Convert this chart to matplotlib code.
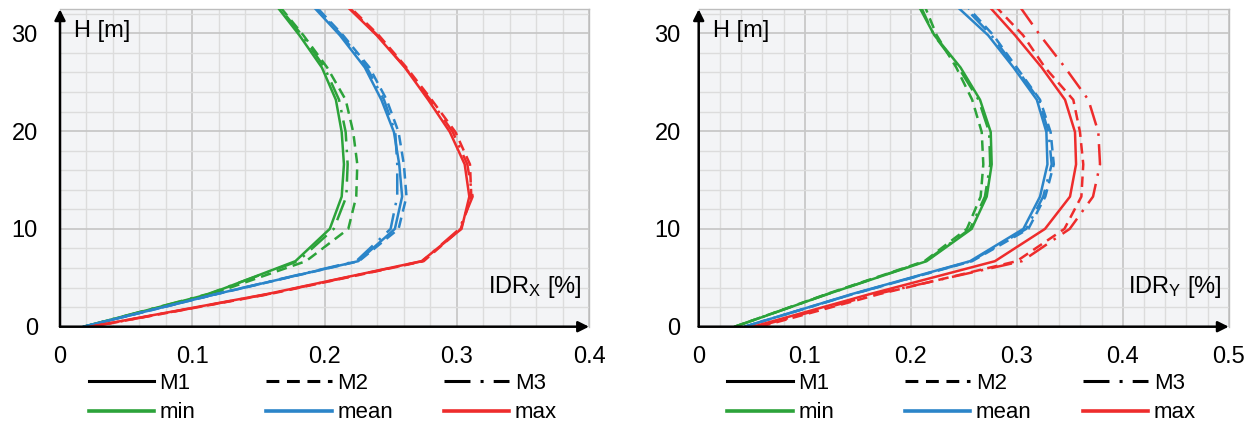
import matplotlib
matplotlib.use("Agg")
import matplotlib.pyplot as plt
from matplotlib.lines import Line2D
from matplotlib.ticker import MultipleLocator

plt.rcParams['font.family'] = ['Liberation Sans', 'DejaVu Sans']
plt.rcParams['mathtext.default'] = 'regular'

# Storey levels [m]
H_LEVELS = [0.0, 3.35, 6.7, 10.0, 13.3, 16.6, 19.9, 23.2, 26.5, 29.8, 33.1]

# Inter-storey drift ratio, X direction [%]
IDRX_MIN_M1 = [0.018, 0.113, 0.178, 0.204, 0.213, 0.2147, 0.213, 0.2086, 0.198, 0.181, 0.162]
IDRX_MIN_M2 = [0.018, 0.115, 0.186, 0.218, 0.224, 0.2248, 0.2217, 0.216, 0.202, 0.184, 0.164]
IDRX_MIN_M3 = [0.018, 0.112, 0.180, 0.207, 0.2165, 0.2175, 0.216, 0.211, 0.200, 0.183, 0.163]
IDRX_MEAN_M1 = [0.018, 0.1185, 0.2255, 0.2532, 0.2587, 0.2565, 0.2525, 0.243, 0.2305, 0.2116, 0.189]
IDRX_MEAN_M2 = [0.018, 0.119, 0.226, 0.256, 0.262, 0.260, 0.256, 0.247, 0.234, 0.214, 0.191]
IDRX_MEAN_M3 = [0.018, 0.1185, 0.224, 0.250, 0.255, 0.255, 0.2535, 0.245, 0.232, 0.213, 0.190]
IDRX_MAX_M1 = [0.023, 0.157, 0.2734, 0.3036, 0.3095, 0.306, 0.2948, 0.2784, 0.2608, 0.2394, 0.2143]
IDRX_MAX_M2 = [0.024, 0.159, 0.275, 0.303, 0.311, 0.310, 0.299, 0.281, 0.262, 0.241, 0.216]
IDRX_MAX_M3 = [0.024, 0.158, 0.274, 0.302, 0.312, 0.308, 0.297, 0.280, 0.261, 0.240, 0.215]

# Inter-storey drift ratio, Y direction [%]
IDRY_MIN_M1 = [0.0342, 0.122, 0.215, 0.2575, 0.2717, 0.2764, 0.2755, 0.2654, 0.247, 0.2223, 0.206]
IDRY_MIN_M2 = [0.034, 0.121, 0.213, 0.253, 0.266, 0.2685, 0.267, 0.258, 0.243, 0.2245, 0.212]
IDRY_MIN_M3 = [0.034, 0.122, 0.214, 0.256, 0.270, 0.275, 0.274, 0.264, 0.245, 0.222, 0.208]
IDRY_MEAN_M1 = [0.0434, 0.145, 0.256, 0.3063, 0.322, 0.329, 0.328, 0.319, 0.297, 0.273, 0.240]
IDRY_MEAN_M2 = [0.0434, 0.146, 0.258, 0.311, 0.327, 0.335, 0.332, 0.322, 0.300, 0.278, 0.250]
IDRY_MEAN_M3 = [0.0434, 0.146, 0.257, 0.309, 0.325, 0.333, 0.330, 0.321, 0.299, 0.276, 0.247]
IDRY_MAX_M1 = [0.0513, 0.162, 0.2795, 0.3267, 0.3503, 0.356, 0.355, 0.3456, 0.3236, 0.2984, 0.271]
IDRY_MAX_M2 = [0.058, 0.171, 0.300, 0.345, 0.361, 0.3628, 0.3597, 0.3534, 0.3267, 0.306, 0.277]
IDRY_MAX_M3 = [0.055, 0.168, 0.305, 0.350, 0.372, 0.3786, 0.377, 0.3676, 0.3456, 0.322, 0.3005]

MODELS = ['M1', 'M2', 'M3']
STATS = ['min', 'mean', 'max']

X_TICKS_LEFT = [0, 0.1, 0.2, 0.3, 0.4]
X_TICKLABELS_LEFT = ['0', '0.1', '0.2', '0.3', '0.4']
X_TICKS_RIGHT = [0, 0.1, 0.2, 0.3, 0.4, 0.5]
X_TICKLABELS_RIGHT = ['0', '0.1', '0.2', '0.3', '0.4', '0.5']
Y_TICKS = [0, 10, 20, 30]
Y_TICKLABELS = ['0', '10', '20', '30']

STAT_COLORS = {'min': '#2ca33a', 'mean': '#2b85c9', 'max': '#ee2c2c'}
MODEL_STYLES = {'M1': '-', 'M2': (0, (4.2, 2.5)), 'M3': (0, (8.5, 3.3, 1, 3.3))}

panels = [
    {
        'data': {
            ('min', 'M1'): IDRX_MIN_M1, ('min', 'M2'): IDRX_MIN_M2, ('min', 'M3'): IDRX_MIN_M3,
            ('mean', 'M1'): IDRX_MEAN_M1, ('mean', 'M2'): IDRX_MEAN_M2, ('mean', 'M3'): IDRX_MEAN_M3,
            ('max', 'M1'): IDRX_MAX_M1, ('max', 'M2'): IDRX_MAX_M2, ('max', 'M3'): IDRX_MAX_M3,
        },
        'xlim': 0.4, 'xticks': X_TICKS_LEFT, 'xticklabels': X_TICKLABELS_LEFT,
        'xlabel': r'IDR$_{X}$ [%]',
        'rect_px': (60, 589), 'ypad': 16,
    },
    {
        'data': {
            ('min', 'M1'): IDRY_MIN_M1, ('min', 'M2'): IDRY_MIN_M2, ('min', 'M3'): IDRY_MIN_M3,
            ('mean', 'M1'): IDRY_MEAN_M1, ('mean', 'M2'): IDRY_MEAN_M2, ('mean', 'M3'): IDRY_MEAN_M3,
            ('max', 'M1'): IDRY_MAX_M1, ('max', 'M2'): IDRY_MAX_M2, ('max', 'M3'): IDRY_MAX_M3,
        },
        'xlim': 0.5, 'xticks': X_TICKS_RIGHT, 'xticklabels': X_TICKLABELS_RIGHT,
        'xlabel': r'IDR$_{Y}$ [%]',
        'rect_px': (698.7, 1228.7), 'ypad': 13,
    },
]

W, H = 1255, 424
fig = plt.figure(figsize=(W / 100, H / 100), dpi=100)

y0_px, y1_px = 326.7, 9.3
for p in panels:
    x0_px, x1_px = p['rect_px']
    ax = fig.add_axes([x0_px / W, (H - y0_px) / H, (x1_px - x0_px) / W, (y0_px - y1_px) / H])
    ax.set_facecolor('#f3f4f6')
    ax.set_xlim(0, p['xlim'])
    ax.set_ylim(0, 32.45)

    ax.set_xticks(p['xticks'])
    ax.set_xticklabels(p['xticklabels'])
    ax.set_yticks(Y_TICKS)
    ax.set_yticklabels(Y_TICKLABELS)
    ax.xaxis.set_minor_locator(MultipleLocator(0.02))
    ax.yaxis.set_minor_locator(MultipleLocator(2))
    ax.grid(which='major', color='#c8c8c8', lw=1.3)
    ax.grid(which='minor', color='#dcdcdc', lw=1.0)
    ax.set_axisbelow(True)
    ax.tick_params(which='both', length=0, labelsize=17)
    ax.tick_params(axis='x', pad=14)
    ax.tick_params(axis='y', pad=p['ypad'])

    for s in ('left', 'bottom'):
        ax.spines[s].set_visible(False)
    for s in ('top', 'right'):
        ax.spines[s].set_color('#bdbdbd')
        ax.spines[s].set_linewidth(1.0)

    for stat in STATS:
        for model in MODELS:
            ax.plot(p['data'][(stat, model)], H_LEVELS, color=STAT_COLORS[stat],
                    ls=MODEL_STYLES[model], lw=1.8, zorder=3)

    # axis lines with arrow heads
    arrow = dict(arrowstyle='-|>', color='black', lw=1.8, mutation_scale=16,
                 shrinkA=0, shrinkB=0)
    ax.annotate('', xy=(1.0, 0), xytext=(0, 0), xycoords='axes fraction',
                textcoords='axes fraction', arrowprops=arrow, annotation_clip=False, zorder=5)
    ax.annotate('', xy=(0, 1.0), xytext=(0, 0), xycoords='axes fraction',
                textcoords='axes fraction', arrowprops=arrow, annotation_clip=False, zorder=5)

    ax.text(0.027, 0.933, 'H [m]', transform=ax.transAxes, ha='left', va='center', fontsize=17)
    ax.text(1 - 7 / (x1_px - x0_px), 0.125, p['xlabel'], transform=ax.transAxes,
            ha='right', va='center', fontsize=17)

    # legend: one two-row block per column
    for k, (model, stat) in enumerate(zip(MODELS, STATS)):
        handles = [Line2D([], [], color='black', ls=MODEL_STYLES[model], lw=2.2),
                   Line2D([], [], color=STAT_COLORS[stat], lw=2.6)]
        lx = (x0_px + 28.5 + k * 177.7) / W
        fig.legend(handles=handles, labels=[model, stat], loc='upper left',
                   bbox_to_anchor=(lx, (H - 373) / H), frameon=False, fontsize=16,
                   handlelength=2.95, handletextpad=0.25, borderpad=0,
                   borderaxespad=0, labelspacing=0.38)

fig.savefig('out.png', dpi=100)
